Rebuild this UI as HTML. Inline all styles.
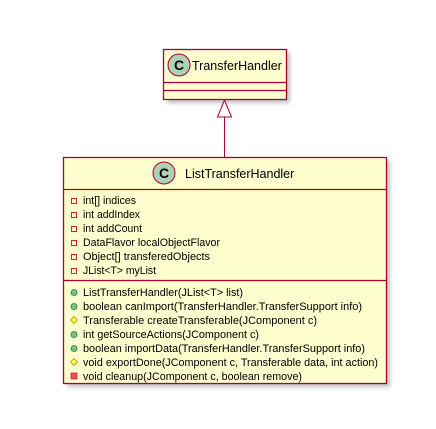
<!DOCTYPE html>
<html><head><style>body{margin:0;background:#fff}svg{display:block}text{font-family:"Liberation Sans",sans-serif}.m{font-size:11px;fill:#000}.t{font-size:12.5px;fill:#000}.c{font-size:14px;font-weight:bold;fill:#000}</style></head>
<body>
<svg width="436" height="429" xmlns="http://www.w3.org/2000/svg">
<defs><filter id="s" x="-10%" y="-10%" width="130%" height="130%"><feGaussianBlur stdDeviation="2"/></filter></defs>
<rect x="167" y="53" width="123" height="50" fill="#999" opacity="0.6" filter="url(#s)"/>
<rect x="163.5" y="49.5" width="123" height="50" fill="#FEFECE" stroke="#A80036" stroke-width="1.3"/>
<circle cx="179" cy="65" r="11" fill="#ADD1B2" stroke="#A80036"/>
<text x="179" y="70" class="c" text-anchor="middle">C</text>
<text x="192" y="70" class="t">TransferHandler</text>
<line x1="163.5" y1="82.5" x2="286.5" y2="82.5" stroke="#A80036" stroke-width="1.3"/>
<line x1="163.5" y1="90.5" x2="286.5" y2="90.5" stroke="#A80036" stroke-width="1.3"/>
<line x1="224.5" y1="117" x2="224.5" y2="157" stroke="#A80036"/>
<polygon points="224.5,100 217.5,117 231.5,117" fill="#fff" stroke="#A80036"/>
<rect x="67" y="161" width="323" height="226" fill="#999" opacity="0.6" filter="url(#s)"/>
<rect x="63.5" y="157.5" width="323" height="226" fill="#FEFECE" stroke="#A80036" stroke-width="1.3"/>
<circle cx="164" cy="173" r="11" fill="#ADD1B2" stroke="#A80036"/>
<text x="164" y="178" class="c" text-anchor="middle">C</text>
<text x="185" y="178" class="t">ListTransferHandler</text>
<line x1="63.5" y1="189.5" x2="386.5" y2="189.5" stroke="#A80036" stroke-width="1.3"/>
<line x1="63.5" y1="280.5" x2="386.5" y2="280.5" stroke="#A80036" stroke-width="1.3"/>
<g fill="none" stroke="#C82930">
<rect x="71.5" y="198.5" width="5" height="5"/><rect x="71.5" y="212.5" width="5" height="5"/><rect x="71.5" y="226.5" width="5" height="5"/>
<rect x="71.5" y="240.5" width="5" height="5"/><rect x="71.5" y="254.5" width="5" height="5"/><rect x="71.5" y="268.5" width="5" height="5"/>
</g>
<text x="83" y="204" class="m" textLength="53" lengthAdjust="spacingAndGlyphs">int[] indices</text>
<text x="83" y="218" class="m" textLength="57" lengthAdjust="spacingAndGlyphs">int addIndex</text>
<text x="83" y="232" class="m" textLength="59" lengthAdjust="spacingAndGlyphs">int addCount</text>
<text x="83" y="246" class="m" textLength="137" lengthAdjust="spacingAndGlyphs">DataFlavor localObjectFlavor</text>
<text x="83" y="260" class="m" textLength="127" lengthAdjust="spacingAndGlyphs">Object[] transferedObjects</text>
<text x="83" y="274" class="m" textLength="73" lengthAdjust="spacingAndGlyphs">JList&lt;T&gt; myList</text>
<text x="83" y="296" class="m" textLength="160" lengthAdjust="spacingAndGlyphs">ListTransferHandler(JList&lt;T&gt; list)</text>
<text x="83" y="310" class="m" textLength="279" lengthAdjust="spacingAndGlyphs">boolean canImport(TransferHandler.TransferSupport info)</text>
<text x="83" y="324" class="m" textLength="234" lengthAdjust="spacingAndGlyphs">Transferable createTransferable(JComponent c)</text>
<text x="83" y="338" class="m" textLength="176" lengthAdjust="spacingAndGlyphs">int getSourceActions(JComponent c)</text>
<text x="83" y="352" class="m" textLength="282" lengthAdjust="spacingAndGlyphs">boolean importData(TransferHandler.TransferSupport info)</text>
<text x="83" y="366" class="m" textLength="295" lengthAdjust="spacingAndGlyphs">void exportDone(JComponent c, Transferable data, int action)</text>
<text x="83" y="380" class="m" textLength="219" lengthAdjust="spacingAndGlyphs">void cleanup(JComponent c, boolean remove)</text>
<g fill="#84BE84" stroke="#038048" stroke-width="0.8">
<circle cx="74" cy="292.5" r="3"/><circle cx="74" cy="306.5" r="3"/><circle cx="74" cy="334.5" r="3"/><circle cx="74" cy="348.5" r="3"/>
</g>
<g fill="#FFFF44" stroke="#B38D22" stroke-width="0.8">
<polygon points="74,316.5 77.5,320 74,323.5 70.5,320"/><polygon points="74,358.5 77.5,362 74,365.5 70.5,362"/>
</g>
<rect x="71" y="373" width="6" height="6" fill="#F24D5C" stroke="#C82930" stroke-width="0.8"/>
</svg>
</body></html>
